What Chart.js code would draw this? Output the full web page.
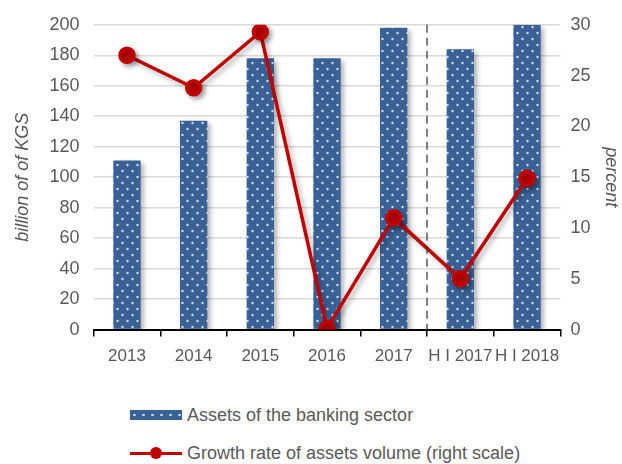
<!DOCTYPE html>
<html>
<head>
<meta charset="utf-8">
<script src="https://cdn.jsdelivr.net/npm/chart.js@4/dist/chart.umd.min.js"></script>
<style>
  body { margin: 0; background: #fff; font-family: "Liberation Sans", Arial, sans-serif; }
  #wrap { position: relative; width: 622px; height: 464px; }
  #chart { position: absolute; left: 0; top: 0; }
  .legend { position: absolute; left: 130px; color: #595959; font-size: 18px; }
  .legend .item { position: absolute; white-space: nowrap; display: flex; align-items: center; height: 22px; }
  .sw-bar { width: 52px; height: 10px; margin-right: 5px;
    background-color: #3a6196;
    background-image: radial-gradient(circle, #c3d3ea 1px, transparent 1.6px);
    background-size: 9px 10px; }
  .sw-line { width: 52px; height: 14px; margin-right: 5px; position: relative; }
  .sw-line:before { content: ""; position: absolute; left: 0; right: 0; top: 5.5px; height: 3px; background: #c00000; }
  .sw-line:after { content: ""; position: absolute; left: 20px; top: 1px; width: 12px; height: 12px; border-radius: 50%; background: #c00000; }
</style>
</head>
<body>
<div id="wrap">
  <canvas id="chart" width="622" height="380"></canvas>
  <div class="legend">
    <div class="item" style="top:404px"><span class="sw-bar"></span>Assets of the banking sector</div>
    <div class="item" style="top:442px"><span class="sw-line"></span>Growth rate of assets volume (right scale)</div>
  </div>
</div>
<script>
const categories = ["2013", "2014", "2015", "2016", "2017", "H I 2017", "H I 2018"];
const assets = [111, 137, 178, 178, 198, 184, 200];
const growthRate = [27.0, 23.8, 29.3, 0.1, 11.0, 5.0, 14.9];
const leftTicks = [0, 20, 40, 60, 80, 100, 120, 140, 160, 180, 200];
const rightTicks = [0, 5, 10, 15, 20, 25, 30];

const tickFont = { family: "'Liberation Sans', Arial", size: 18 };
const grey = "#595959";

// dotted fill for the bars
const makePattern = () => {
  const c = document.createElement("canvas");
  c.width = 10; c.height = 12;
  const g = c.getContext("2d");
  g.fillStyle = "#3a6196";
  g.fillRect(0, 0, 10, 12);
  g.fillStyle = "rgba(215,228,245,0.95)";
  [[2.5, 3], [7.5, 9]].forEach(([x, y]) => {
    g.beginPath();
    g.arc(x, y, 1.2, 0, Math.PI * 2);
    g.fill();
  });
  return g.createPattern(c, "repeat");
};

const dividerPlugin = {
  id: "divider",
  afterDatasetsDraw(chart) {
    const x = chart.scales.x.getPixelForValue(4.5);
    const ctx = chart.ctx;
    ctx.save();
    ctx.strokeStyle = "#404040";
    ctx.lineWidth = 1.3;
    ctx.setLineDash([8, 5]);
    ctx.beginPath();
    ctx.moveTo(x, chart.chartArea.top);
    ctx.lineTo(x, chart.chartArea.bottom);
    ctx.stroke();
    ctx.restore();
  }
};

const shadowPlugin = {
  id: "shadow",
  beforeDatasetDraw(chart) {
    const ctx = chart.ctx;
    ctx.save();
    ctx.shadowColor = "rgba(0,0,0,0.3)";
    ctx.shadowBlur = 5;
    ctx.shadowOffsetX = 3;
    ctx.shadowOffsetY = 3;
  },
  afterDatasetDraw(chart) {
    chart.ctx.restore();
  }
};

new Chart(document.getElementById("chart"), {
  data: {
    labels: categories,
    datasets: [
      {
        type: "line",
        label: "Growth rate of assets volume (right scale)",
        data: growthRate,
        yAxisID: "y1",
        borderColor: "#c00000",
        backgroundColor: "#c00000",
        borderWidth: 3.5,
        pointRadius: 7,
        pointHoverRadius: 7,
        tension: 0,
        order: 0
      },
      {
        type: "bar",
        label: "Assets of the banking sector",
        data: assets,
        yAxisID: "y",
        backgroundColor: makePattern(),
        barPercentage: 0.41,
        categoryPercentage: 1,
        order: 1
      }
    ]
  },
  options: {
    responsive: false,
    animation: false,
    layout: { padding: { top: 14, left: 10, right: 0, bottom: 3 } },
    plugins: { legend: { display: false }, tooltip: { enabled: false } },
    scales: {
      x: {
        offset: true,
        grid: { offset: true, drawOnChartArea: false, color: "#000", tickLength: 7, lineWidth: 1.5 },
        border: { color: "#000", width: 2 },
        ticks: { color: grey, font: { ...tickFont, size: 17 }, maxRotation: 0, autoSkip: false, padding: 10 }
      },
      y: {
        position: "left",
        min: 0, max: 200,
        afterBuildTicks: (s) => { s.ticks = leftTicks.map(v => ({ value: v })); },
        grid: { color: "#d9d9d9", lineWidth: 1.5, drawTicks: false },
        border: { display: false },
        ticks: { color: grey, font: tickFont, padding: 14 },
        title: { display: true, text: "billion of of KGS", color: grey, font: { ...tickFont, style: "italic" }, padding: 2 }
      },
      y1: {
        position: "right",
        min: 0, max: 30,
        afterBuildTicks: (s) => { s.ticks = rightTicks.map(v => ({ value: v })); },
        grid: { drawOnChartArea: false, drawTicks: false },
        border: { display: false },
        ticks: { color: grey, font: tickFont, padding: 10 },
        title: { display: true, text: "percent", color: grey, font: { ...tickFont, style: "italic" }, padding: 0 }
      }
    }
  },
  plugins: [shadowPlugin, dividerPlugin]
});
</script>
</body>
</html>
